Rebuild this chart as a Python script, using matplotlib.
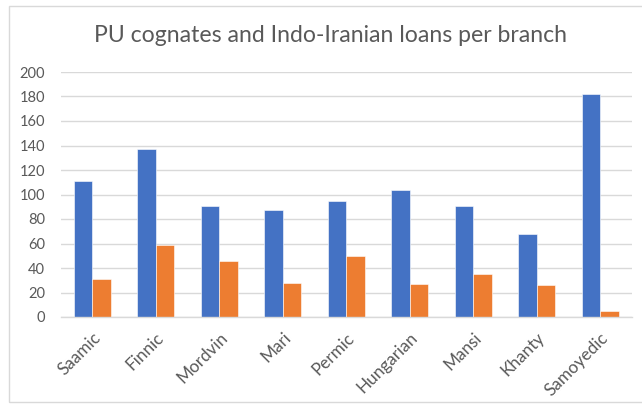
import matplotlib
matplotlib.use("Agg")
import matplotlib.pyplot as plt
import numpy as np
from matplotlib.patches import Rectangle

categories = ["Saamic", "Finnic", "Mordvin", "Mari", "Permic", "Hungarian", "Mansi", "Khanty", "Samoyedic"]
pu_cognates = [111, 137, 91, 87, 95, 104, 91, 68, 182]
indo_iranian_loans = [31, 59, 46, 28, 50, 27, 35, 26, 5]
yticks = [0, 20, 40, 60, 80, 100, 120, 140, 160, 180, 200]

plt.rcParams['font.family'] = ['Lato', 'DejaVu Sans']
TXT = "#595959"
GRID = "#D9D9D9"

fig = plt.figure(figsize=(6.42, 4.04), dpi=100)
ax = fig.add_axes([60.5/642, 1 - 317/404, (632 - 60.5)/642, (317 - 72)/404])

x = np.arange(len(categories))
w = 0.29
ax.bar(x - w/2, pu_cognates, w, color="#4472C4", edgecolor="white", linewidth=0.4, zorder=3)
ax.bar(x + w/2, indo_iranian_loans, w, color="#ED7D31", edgecolor="white", linewidth=0.4, zorder=3)

ax.set_xlim(-0.5, len(categories) - 0.5)
ax.set_ylim(0, 200)
ax.set_yticks(yticks)
ax.set_yticklabels([str(t) for t in yticks])
ax.set_xticks(x)
ax.set_xticklabels(categories, rotation=45, ha="right", va="top", rotation_mode="anchor")
ax.tick_params(axis="both", length=0, colors=TXT)
ax.tick_params(axis="y", pad=11, labelsize=10.5)
ax.tick_params(axis="x", pad=9, labelsize=12.3)
ax.grid(axis="y", color=GRID, linewidth=1, zorder=0)
for s in ["top", "right", "left"]:
    ax.spines[s].set_visible(False)
ax.spines["bottom"].set_color(GRID)
ax.spines["bottom"].set_linewidth(1)
ax.spines["bottom"].set_zorder(4)

fig.text(331/642, 1 - 36/404, "PU cognates and Indo-Iranian loans per branch",
         ha="center", va="center", fontsize=16.6, color=TXT)

border = Rectangle((9/642, 1 - 402/404), 1, (402 - 6)/404, transform=fig.transFigure,
                   fill=False, edgecolor=GRID, linewidth=1)
fig.patches.append(border)

fig.savefig("out.png", dpi=100)
